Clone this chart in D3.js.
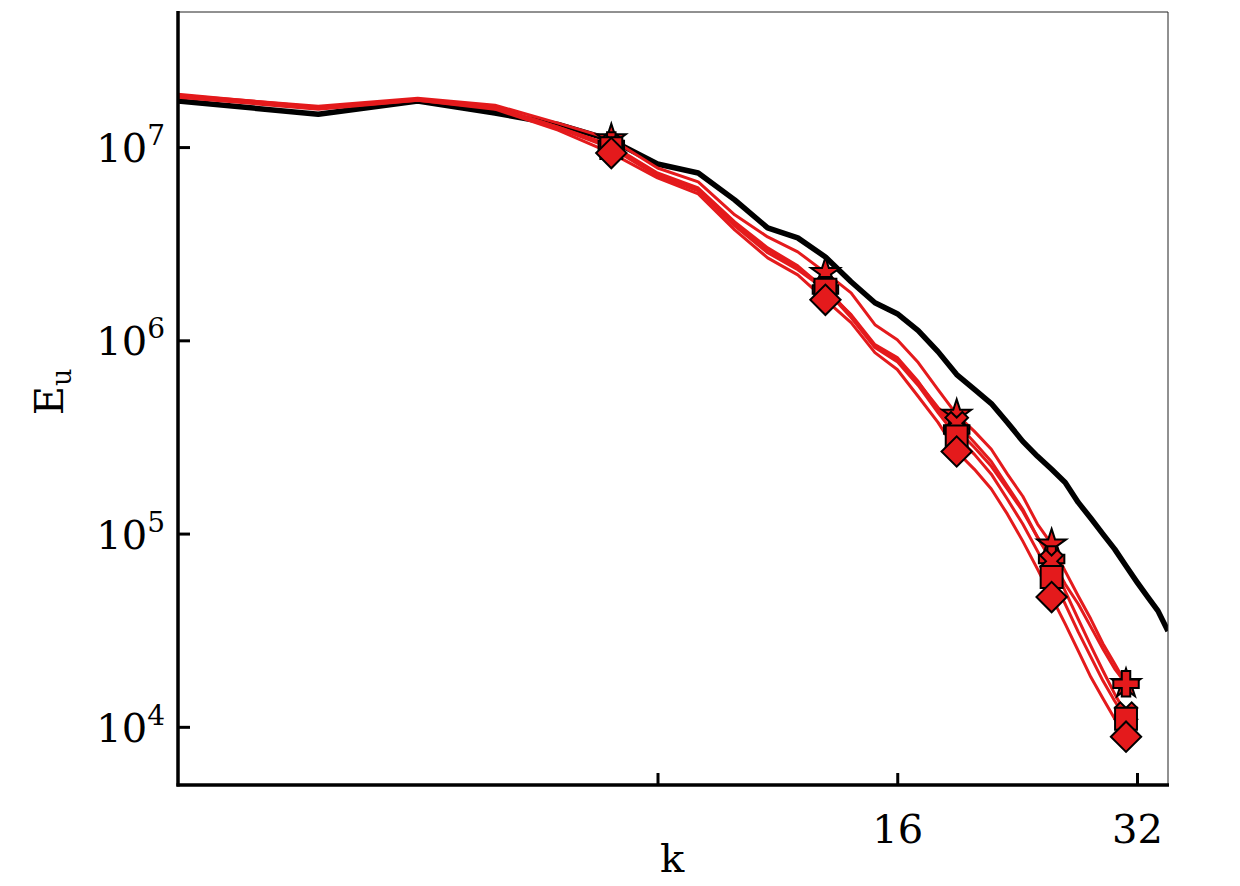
<!DOCTYPE html>
<html>
<head>
<meta charset="utf-8">
<script src="https://cdn.jsdelivr.net/npm/d3@7"></script>
<style>
  html, body { margin: 0; padding: 0; background: #fff; }
  svg { display: block; }
  text { font-family: "DejaVu Serif", serif; fill: #000; }
</style>
</head>
<body>
<svg id="chart" width="1240" height="886"></svg>
<script>
// ---------------- data ----------------
const kBlack = [2,3,4,5,6,7,8,9,10,11,12,13,14,15,16,17,18,19,20,21,22,23,24,25,26,27,28,29,30,31,32,33,34,35];
const eBlack = [1.73e7,1.48e7,1.73e7,1.50e7,1.31e7,1.087e7,8.17e6,7.34e6,5.33e6,3.82e6,3.39e6,2.70e6,2.01e6,1.565e6,1.373e6,1.122e6,8.74e5,6.65e5,5.57e5,4.71e5,3.76e5,3.00e5,2.51e5,2.15e5,1.84e5,1.45e5,1.20e5,9.93e4,8.31e4,6.79e4,5.61e4,4.70e4,3.98e4,3.13e4];

const kRed = [2,3,4,5,6,7,8,9,10,11,12,13,14,15,16,17,18,19,20,21,22,23,24,25,26,27,28,29,30,31];
const eStar = [1.855e7,1.628e7,1.790e7,1.648e7,1.330e7,1.100e7,7.79e6,6.60e6,4.46e6,3.43e6,2.87e6,2.24e6,1.76e6,1.205e6,1.008e6,7.67e5,5.56e5,4.13e5,3.38e5,2.73e5,2.03e5,1.56e5,1.12e5,8.82e4,6.39e4,4.75e4,3.61e4,2.69e4,2.12e4,1.67e4];
const ePlus = [1.878e7,1.609e7,1.769e7,1.609e7,1.268e7,1.024e7,7.34e6,6.14e6,4.10e6,3.01e6,2.43e6,1.83e6,1.358e6,9.50e5,8.14e5,6.12e5,4.39e5,3.46e5,2.79e5,2.23e5,1.70e5,1.305e5,9.58e4,7.38e4,5.48e4,4.32e4,3.29e4,2.53e4,1.995e4,1.67e4];
const eCross = [1.855e7,1.590e7,1.769e7,1.609e7,1.268e7,1.012e7,7.26e6,6.00e6,4.00e6,2.94e6,2.37e6,1.87e6,1.342e6,9.28e5,7.95e5,6.05e5,4.49e5,3.72e5,2.96e5,2.36e5,1.76e5,1.336e5,9.58e4,7.20e4,5.04e4,3.61e4,2.62e4,1.95e4,1.48e4,1.17e4];
const eSquare = [1.833e7,1.590e7,1.748e7,1.590e7,1.253e7,9.88e6,7.08e6,5.93e6,3.91e6,2.84e6,2.32e6,1.83e6,1.311e6,9.17e5,7.76e5,5.84e5,4.23e5,3.18e5,2.57e5,2.03e5,1.505e5,1.12e5,8.11e4,5.96e4,4.32e4,3.10e4,2.30e4,1.73e4,1.36e4,1.10e4];
const eDiamond = [1.812e7,1.571e7,1.748e7,1.571e7,1.224e7,9.31e6,6.92e6,5.72e6,3.73e6,2.67e6,2.18e6,1.62e6,1.234e6,8.64e5,7.06e5,5.12e5,3.76e5,2.66e5,2.15e5,1.70e5,1.26e5,9.14e4,6.55e4,4.69e4,3.41e4,2.47e4,1.81e4,1.40e4,1.10e4,8.89e3];

const markerK = [7,13,19,25,31];
const xTickValues = [8,16,32];
const xTickLabels = ["","16","32"];
const yTickValues = [1e4,1e5,1e6,1e7];
const yTickExponents = ["4","5","6","7"];

// ---------------- layout ----------------
const svg = d3.select("#chart");
const mLeft = 178, mRight = 1168, mTop = 12, mBottom = 785;
const RED = "#e41a1c";

const x = d3.scaleLog().domain([2, 35]).range([mLeft, mRight]);
const y = d3.scaleLog().domain([5e3, 5e7]).range([mBottom, mTop]);

svg.append("defs").append("clipPath").attr("id", "clip")
  .append("rect").attr("x", mLeft).attr("y", mTop).attr("width", mRight - mLeft).attr("height", mBottom - mTop);

const plot = svg.append("g").attr("clip-path", "url(#clip)");
const line = d3.line().x(d => x(d[0])).y(d => y(d[1]));

// black reference curve
plot.append("path")
  .datum(kBlack.map((k, i) => [k, eBlack[i]]))
  .attr("d", line).attr("fill", "none").attr("stroke", "#000")
  .attr("stroke-width", 5.5).attr("stroke-linejoin", "round");

const series = [
  { vals: eStar,    sym: d3.symbolStar,   size: 260, rot: 0 },
  { vals: ePlus,    sym: d3.symbolCross,  size: 360, rot: 0 },
  { vals: eCross,   sym: d3.symbolCross,  size: 320, rot: 45 },
  { vals: eSquare,  sym: d3.symbolSquare, size: 480, rot: 0 },
  { vals: eDiamond, sym: d3.symbolSquare, size: 460, rot: 45 }
];

series.forEach(s => {
  const pts = kRed.map((k, i) => [k, s.vals[i]]);
  plot.append("path").datum(pts).attr("d", line)
    .attr("fill", "none").attr("stroke", RED).attr("stroke-width", 3)
    .attr("stroke-linejoin", "round");
});
series.forEach(s => {
  const pts = kRed.map((k, i) => [k, s.vals[i]]).filter(p => markerK.includes(p[0]));
  plot.selectAll(null).data(pts).enter().append("path")
    .attr("d", d3.symbol().type(s.sym).size(s.size))
    .attr("transform", d => `translate(${x(d[0])},${y(d[1])}) rotate(${s.rot})`)
    .attr("fill", RED).attr("stroke", "#000").attr("stroke-width", 2)
    .attr("stroke-linejoin", "miter");
});

// ---------------- axes ----------------
svg.append("line").attr("x1", mLeft).attr("x2", mRight).attr("y1", mTop).attr("y2", mTop)
  .attr("stroke", "#222").attr("stroke-width", 1);
svg.append("line").attr("x1", mRight).attr("x2", mRight).attr("y1", mTop).attr("y2", mBottom)
  .attr("stroke", "#222").attr("stroke-width", 1);

const xAxis = d3.axisBottom(x).tickValues(xTickValues)
  .tickFormat((d, i) => xTickLabels[i]).tickSizeInner(-12).tickSizeOuter(0).tickPadding(30);
const gx = svg.append("g").attr("transform", `translate(0,${mBottom})`).call(xAxis);
gx.select(".domain").attr("stroke", "#000").attr("stroke-width", 3.5)
  .attr("d", `M${mLeft - 1.5},0H${mRight + 1}`);
gx.selectAll(".tick line").attr("stroke", "#000").attr("stroke-width", 3);
gx.selectAll(".tick text").attr("font-family", "DejaVu Serif").attr("font-size", 40).attr("fill", "#000");

const yAxis = d3.axisLeft(y).tickValues(yTickValues).tickFormat("").tickSizeInner(-12).tickSizeOuter(0);
const gy = svg.append("g").attr("transform", `translate(${mLeft},0)`).call(yAxis);
gy.select(".domain").attr("stroke", "#000").attr("stroke-width", 3.5)
  .attr("d", `M0,${mTop - 1}V${mBottom + 1.5}`);
gy.selectAll(".tick line").attr("stroke", "#000").attr("stroke-width", 3);

yTickValues.forEach((v, i) => {
  const t = svg.append("text").attr("x", 165).attr("y", y(v) + 15)
    .attr("text-anchor", "end").attr("font-size", 40);
  t.append("tspan").text("10");
  t.append("tspan").attr("dy", -17).attr("font-size", 28).text(yTickExponents[i]);
});

svg.append("text").attr("x", 672).attr("y", 872).attr("text-anchor", "middle")
  .attr("font-size", 40).text("k");
const yl = svg.append("text").attr("transform", "translate(63,392) rotate(-90)")
  .attr("text-anchor", "middle").attr("font-size", 40);
yl.append("tspan").text("E");
yl.append("tspan").attr("dy", 8).attr("font-size", 27).text("u");
</script>
</body>
</html>
